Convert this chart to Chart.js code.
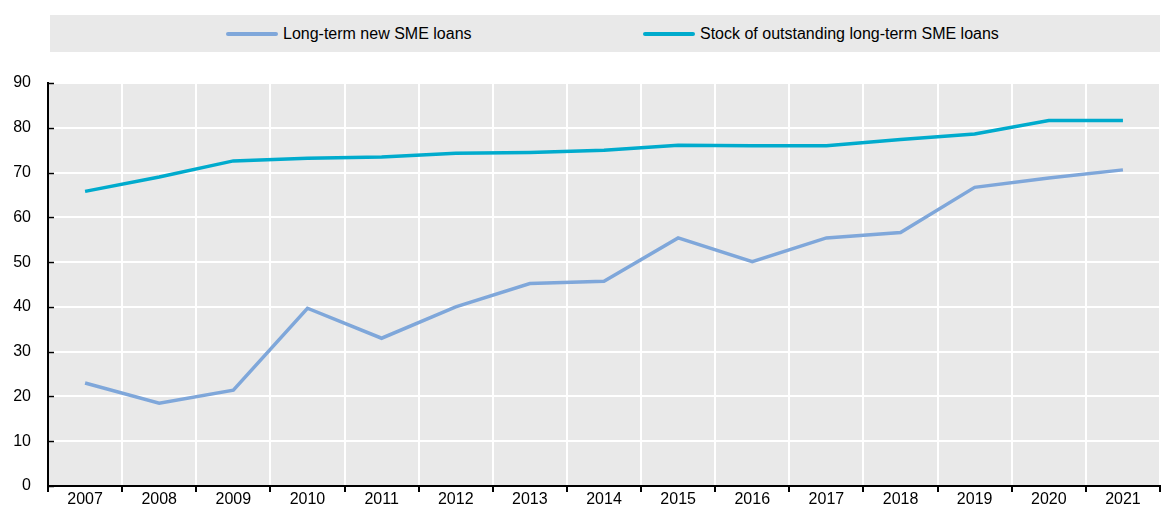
<!DOCTYPE html>
<html>
<head>
<meta charset="utf-8">
<script src="https://cdn.jsdelivr.net/npm/chart.js@4/dist/chart.umd.min.js"></script>
<style>
  html, body { margin: 0; padding: 0; background: #fff; }
  #wrap { width: 1164px; height: 511px; position: relative; }
  .legend {
    position: absolute; left: 50px; top: 15px; width: 1110px; height: 37px;
    background: #e9e9e9; font: 16px 'Liberation Sans', Arial, sans-serif; color: #000;
  }
  .legend .item { position: absolute; top: 0; height: 37px; line-height: 37px; white-space: nowrap; }
  .legend .swatch { display: inline-block; width: 52px; height: 4px; border-radius: 2px;
    vertical-align: middle; margin-right: 5px; position: relative; top: -1px; }
</style>
</head>
<body>
<div id="wrap">
  <div class="legend" id="legend"></div>
  <canvas id="chart"></canvas>
</div>
<script>
// SME long-term loans, % share
const years = ['2007', '2008', '2009', '2010', '2011', '2012', '2013', '2014',
  '2015', '2016', '2017', '2018', '2019', '2020', '2021'];
const newLoans = [23.0, 18.5, 21.4, 39.7, 33.0, 40.0, 45.2, 45.7,
  55.4, 50.1, 55.4, 56.6, 66.7, 68.8, 70.6];
const stockLoans = [65.8, 69.0, 72.6, 73.2, 73.5, 74.3, 74.5, 75.0,
  76.1, 76.0, 76.0, 77.4, 78.6, 81.6, 81.6];

const NEW_COLOR = '#7fa7da';
const STOCK_COLOR = '#00abcd';
const PANEL_BG = '#e9e9e9';
const FONT = { family: "'Liberation Sans', Arial, sans-serif", size: 16, lineHeight: 1 };

// grey plot panel
const panelBg = {
  id: 'panelBg',
  beforeDraw(chart) {
    const { ctx, chartArea: a } = chart;
    ctx.save();
    ctx.fillStyle = PANEL_BG;
    ctx.fillRect(a.left, a.top, a.right - a.left, a.bottom - a.top);
    ctx.restore();
  },
};

// short inward ticks on the value axis
const innerTicks = {
  id: 'innerTicks',
  afterDraw(chart) {
    const { ctx, scales: { y }, chartArea: a } = chart;
    ctx.save();
    ctx.strokeStyle = '#000';
    ctx.lineWidth = 1.5;
    y.ticks.forEach((t) => {
      const py = Math.round(y.getPixelForValue(t.value)) + 0.5;
      ctx.beginPath();
      ctx.moveTo(a.left, py);
      ctx.lineTo(a.left + 6, py);
      ctx.stroke();
    });
    ctx.restore();
  },
};

const chart = new Chart(document.getElementById('chart'), {
  type: 'line',
  data: {
    labels: years,
    datasets: [
      {
        label: 'Long-term new SME loans',
        data: newLoans,
        borderColor: NEW_COLOR,
        backgroundColor: NEW_COLOR,
        borderWidth: 3.5,
        pointRadius: 0,
        tension: 0,
      },
      {
        label: 'Stock of outstanding long-term SME loans',
        data: stockLoans,
        borderColor: STOCK_COLOR,
        backgroundColor: STOCK_COLOR,
        borderWidth: 3.5,
        pointRadius: 0,
        tension: 0,
      },
    ],
  },
  options: {
    responsive: true,
    maintainAspectRatio: false,
    animation: false,
    layout: { padding: { top: 83, right: 4, left: 13, bottom: 0 } },
    plugins: {
      title: { display: false },
      tooltip: { enabled: false },
      legend: { display: false },
    },
    scales: {
      x: {
        offset: true,
        afterFit: (scale) => {
          scale.paddingLeft = 0;
          scale.paddingRight = 0;
        },
        grid: {
          offset: true,
          color: '#fff',
          lineWidth: 2,
          tickColor: '#000',
          tickLength: 6,
          tickWidth: 2,
        },
        border: { color: '#000', width: 2 },
        ticks: { color: '#000', font: FONT, padding: 0, maxRotation: 0 },
      },
      y: {
        min: 0,
        max: 90,
        afterFit: (scale) => {
          scale.width = 35;
        },
        ticks: { stepSize: 10, color: '#000', font: FONT, padding: 17 },
        grid: { color: '#fff', lineWidth: 2, drawTicks: false },
        border: { color: '#000', width: 2 },
      },
    },
  },
  plugins: [panelBg, innerTicks],
});

// html legend in the grey strip
const legendPos = [176, 593];
const legendEl = document.getElementById('legend');
chart.data.datasets.forEach((ds, i) => {
  const item = document.createElement('div');
  item.className = 'item';
  item.style.left = legendPos[i] + 'px';
  item.innerHTML = `<span class="swatch" style="background:${ds.borderColor}"></span>${ds.label}`;
  legendEl.appendChild(item);
});
</script>
</body>
</html>
